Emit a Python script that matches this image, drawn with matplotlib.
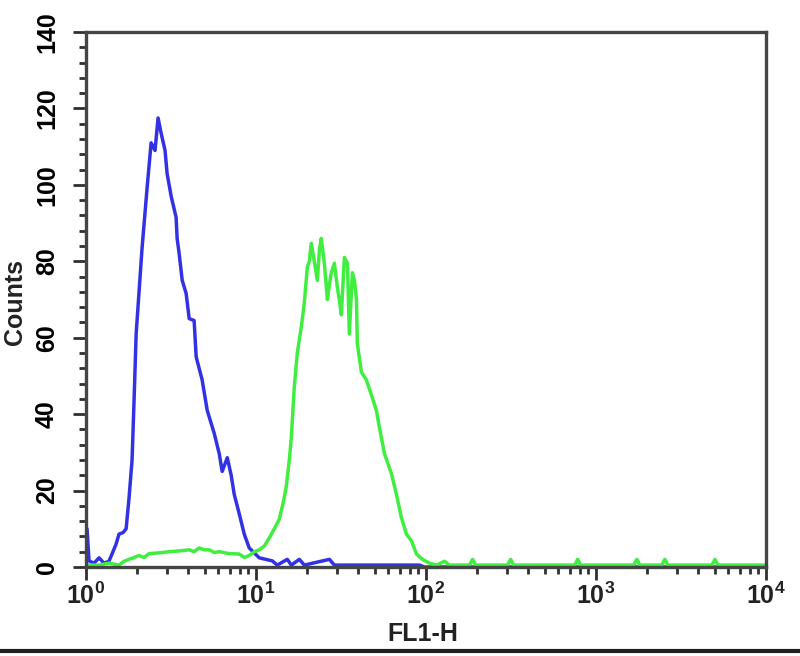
import numpy as np
import matplotlib
matplotlib.use("Agg")
import matplotlib.pyplot as plt
from matplotlib.ticker import FixedLocator, FixedFormatter, MultipleLocator
from matplotlib.lines import Line2D

plt.rcParams['font.family'] = ['Liberation Sans', 'DejaVu Sans']
plt.rcParams['font.weight'] = 'bold'
plt.rcParams['mathtext.fontset'] = 'custom'
plt.rcParams['mathtext.rm'] = 'Liberation Sans:bold'
plt.rcParams['mathtext.bf'] = 'Liberation Sans:bold'

# Kontrolle (blau): Position in Dekaden (log10 FL1-H) und Counts
blue_log = [0.000, 0.006, 0.018, 0.047, 0.077, 0.106, 0.135, 0.153, 0.177, 0.194,
            0.218, 0.236, 0.253, 0.271, 0.283, 0.295, 0.312, 0.330, 0.359, 0.383,
            0.406, 0.424, 0.442, 0.465, 0.477, 0.501, 0.530, 0.536, 0.548, 0.566,
            0.589, 0.607, 0.636, 0.648, 0.683, 0.713, 0.754, 0.784, 0.801, 0.831,
            0.854, 0.872, 0.901, 0.931, 0.960, 1.019, 1.096, 1.125, 1.184, 1.208,
            1.255, 1.284, 1.432, 1.461, 1.962, 1.991, 4.000]
blue_counts = [10, 10, 1.6, 1, 2.4, 1, 1.5, 3.4, 6, 8.6,
               9, 10, 18, 28, 44, 61, 72, 83.6, 99, 111,
               109, 117.5, 113.5, 109, 103, 97, 91.5, 86, 82, 75,
               71.6, 65, 64.5, 55, 49, 41, 35, 29.6, 25, 28.6,
               24, 19, 14, 8.6, 5, 2.4, 1.6, 0.5, 2, 0.5,
               2, 0.5, 2, 0.5, 0.5, 0, 0]

# Antikörper (grün)
green_log = [0.000, 0.077, 0.135, 0.194, 0.224, 0.253, 0.283, 0.312, 0.342, 0.371,
             0.430, 0.489, 0.548, 0.607, 0.636, 0.666, 0.695, 0.725, 0.754, 0.784,
             0.842, 0.901, 0.931, 0.960, 0.990, 1.019, 1.049, 1.078, 1.108, 1.137,
             1.161, 1.178, 1.196, 1.208, 1.225, 1.243, 1.267, 1.284, 1.302, 1.314,
             1.325, 1.343, 1.361, 1.373, 1.384, 1.402, 1.420, 1.432, 1.443, 1.461,
             1.479, 1.490, 1.502, 1.520, 1.538, 1.549, 1.567, 1.579, 1.591, 1.596,
             1.620, 1.649, 1.679, 1.708, 1.726, 1.756, 1.797, 1.826, 1.856, 1.885,
             1.915, 1.944, 1.979, 2.021, 2.062, 2.109, 2.138, 2.256, 2.274, 2.292,
             2.480, 2.498, 2.515, 2.875, 2.892, 2.910, 3.222, 3.240, 3.258, 3.387,
             3.405, 3.423, 3.682, 3.700, 3.717, 4.000]
green_counts = [0.5, 0.5, 1, 0.5, 1.5, 2, 2.5, 3, 2.5, 3.5,
                3.7, 4, 4.2, 4.5, 4, 5, 4.5, 4.5, 3.8, 4,
                3.5, 3.4, 2.5, 3, 4, 4.5, 5.5, 7.6, 10, 12.5,
                17, 21, 28, 34, 47, 56, 63, 69, 78.5, 80,
                84.7, 80, 75, 83, 86, 79.5, 70, 74, 77, 79.5,
                73, 70, 66, 81, 79.5, 61, 77, 75, 70, 58.5,
                51, 49, 45, 41, 36.5, 29.6, 24.4, 19, 12.8, 8.6,
                6.8, 3.4, 2, 1, 0.5, 1.5, 0.5, 0.5, 2, 0.5,
                0.5, 2, 0.5, 0.5, 2, 0.5, 0.5, 2, 0.5, 0.5,
                2, 0.5, 0.5, 2, 0.5, 0.5]

x_ticks = [1, 10, 100, 1000, 10000]
x_ticklabels = [r'$\mathbf{10^{0}}$', r'$\mathbf{10^{1}}$', r'$\mathbf{10^{2}}$',
                r'$\mathbf{10^{3}}$', r'$\mathbf{10^{4}}$']
y_ticks = [0, 20, 40, 60, 80, 100, 120, 140]

fig = plt.figure(figsize=(8, 6.56), dpi=100)
ax = fig.add_axes([86 / 800, 1 - 567 / 656, 680 / 800, 535 / 656])

ax.plot(10 ** np.array(blue_log), blue_counts, color='#3232e4', lw=2.5)
ax.plot(10 ** np.array(green_log), green_counts, color='#40ee40', lw=2.5)

ax.set_xscale('log')
ax.set_xlim(1, 10000)
ax.set_ylim(0, 140)

ax.xaxis.set_major_locator(FixedLocator(x_ticks))
ax.xaxis.set_major_formatter(FixedFormatter(x_ticklabels))
ax.yaxis.set_major_locator(FixedLocator(y_ticks))
ax.yaxis.set_minor_locator(MultipleLocator(4))

for s in ax.spines.values():
    s.set_color('#454545')
    s.set_linewidth(2.4)

ax.tick_params(which='major', direction='out', length=9.5, width=2, color='#303030')
ax.tick_params(which='minor', direction='out', length=5, width=2, color='#303030')
ax.tick_params(axis='x', labelsize=18, pad=2)
ax.tick_params(axis='y', labelsize=18, pad=10)
for lab in ax.get_yticklabels():
    lab.set_rotation(90)
    lab.set_va('center')
    lab.set_fontweight('bold')
for lab in ax.get_xticklabels():
    lab.set_color('#222222')

ax.set_xlabel('FL1-H', fontsize=18, fontweight='bold', color='#222222')
ax.xaxis.set_label_coords(0.495, -0.102)
ax.set_ylabel('Counts', fontsize=18, fontweight='bold', va='center', color='#222222')
ax.yaxis.set_label_coords(-0.104, 0.495)

# dunkler Rand unten
fig.add_artist(Line2D([0, 1], [0.007, 0.007], transform=fig.transFigure,
                      color='#202020', lw=3))

plt.savefig('out.png', dpi=100)
